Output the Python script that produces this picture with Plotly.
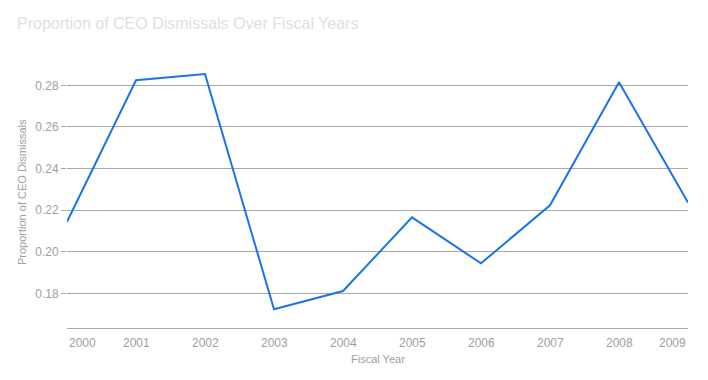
import plotly.graph_objects as go

years = [2000, 2001, 2002, 2003, 2004, 2005, 2006, 2007, 2008, 2009]
proportions = [0.2144, 0.2824, 0.2854, 0.1723, 0.1811, 0.2165, 0.1944, 0.2223, 0.2815, 0.2236]
y_ticks = [0.18, 0.20, 0.22, 0.24, 0.26, 0.28]
y_tick_labels = ["0.18", "0.20", "0.22", "0.24", "0.26", "0.28"]

FONT = "Arial, 'Liberation Sans', sans-serif"
GRAY = "#9e9e9e"
GRID = "#a8a8a8"

# page body has an 8px margin, so the figure is sized to fill the rest of the window
W, H = 700, 372

fig = go.Figure()
fig.add_trace(go.Scatter(
    x=years, y=proportions, mode="lines",
    line=dict(color="#1a73e8", width=2),
    hoverinfo="x+y",
))

annotations = []
for i, yr in enumerate(years):
    anchor = "center"
    if i == 0:
        anchor = "left"
    elif i == len(years) - 1:
        anchor = "right"
    annotations.append(dict(
        x=yr, y=0, xref="x", yref="paper", text=str(yr), showarrow=False,
        xanchor=anchor, yanchor="middle", yshift=-15,
        font=dict(family=FONT, size=12, color=GRAY),
    ))
annotations.append(dict(
    x=0.5, y=0, xref="paper", yref="paper", text="Fiscal Year", showarrow=False,
    xanchor="center", yanchor="middle", yshift=-31,
    font=dict(family=FONT, size=11, color=GRAY),
))
annotations.append(dict(
    x=-0.0725, y=0.515, xref="paper", yref="paper", text="Proportion of CEO Dismissals",
    showarrow=False, textangle=-90, xanchor="center", yanchor="middle",
    font=dict(family=FONT, size=11, color=GRAY),
))

fig.update_layout(
    width=W, height=H,
    margin=dict(l=59, r=20, t=56, b=52),
    paper_bgcolor="white", plot_bgcolor="white",
    showlegend=False,
    title=dict(
        text="Proportion of CEO Dismissals Over Fiscal Years",
        x=9 / W, xref="container", xanchor="left",
        y=1 - 15 / H, yref="container", yanchor="middle",
        font=dict(family=FONT, size=16, color="#e0e0e0"),
    ),
    xaxis=dict(
        range=[2000, 2009], showgrid=False, zeroline=False,
        showticklabels=False, ticks="",
        showline=True, linecolor=GRID, linewidth=1,
        fixedrange=True,
    ),
    yaxis=dict(
        range=[0.16332, 0.29024], tickvals=y_ticks, ticktext=y_tick_labels,
        showgrid=True, gridcolor=GRID, gridwidth=1, zeroline=False,
        ticks="outside", ticklen=5, tickcolor=GRID, tickwidth=1,
        tickfont=dict(family=FONT, size=12, color=GRAY),
        showline=False, fixedrange=True,
    ),
    annotations=annotations,
)

fig.write_html("out.html")
